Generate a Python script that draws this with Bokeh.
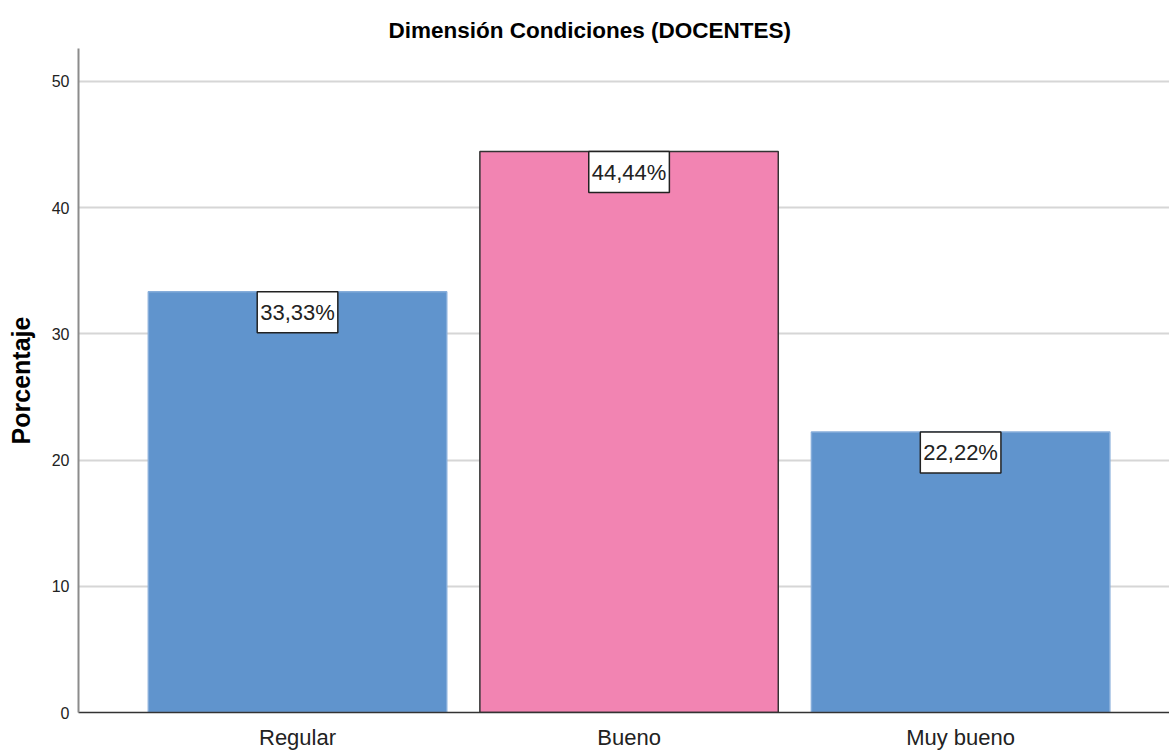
from bokeh.plotting import figure
from bokeh.models import ColumnDataSource, Range1d, FixedTicker, Label
from bokeh.embed import file_html
from bokeh.resources import INLINE

# ---- data ----
categories = ["Regular", "Bueno", "Muy bueno"]
percentages = [33.33, 44.44, 22.22]
y_ticks = [0, 10, 20, 30, 40, 50]
title_text = "Dimensión Condiciones (DOCENTES)"
y_label = "Porcentaje"

# ---- styling ----
FONT = "Liberation Sans"
BLUE = "#6094CD"
PINK = "#F284B2"
highlight = "Bueno"

x = list(range(len(categories)))
labels = [f"{v:.2f}".replace(".", ",") + "%" for v in percentages]
fills = [PINK if c == highlight else BLUE for c in categories]
lines = ["#333333" if c == highlight else "#86ADDA" for c in categories]

src = ColumnDataSource(dict(x=x, top=percentages, fill=fills, line=lines))

p = figure(width=1169, height=752, output_backend="svg", toolbar_location=None,
           x_range=Range1d(-0.6606, 2.63), y_range=Range1d(0, 52.6),
           min_border_left=78, min_border_right=0, min_border_top=48,
           min_border_bottom=40, background_fill_color="white",
           border_fill_color="white")
p.outline_line_color = None

p.title.text = title_text
p.title.align = "left"
p.title.offset = 310
p.title.text_font = FONT
p.title.text_font_size = "22.5px"
p.title.text_font_style = "bold"
p.title.text_color = "black"
p.title.standoff = 12

p.vbar(x="x", top="top", bottom=0, width=0.9, fill_color="fill",
       line_color="line", line_width=1.5, source=src)

for xi, v, lab in zip(x, percentages, labels):
    p.add_layout(Label(x=xi, y=v, text=lab, anchor="top_center",
                       text_font=FONT, text_font_size="22px", text_color="#222222",
                       background_fill_color="white", border_line_color="#222222",
                       border_line_width=1.5,
                       padding=dict(left=3, right=3, top=8, bottom=8),
                       y_offset=0))

# axes
p.xaxis.ticker = FixedTicker(ticks=x)
p.xaxis.major_label_overrides = {i: c for i, c in zip(x, categories)}
p.yaxis.ticker = FixedTicker(ticks=y_ticks)

for ax in (p.xaxis[0], p.yaxis[0]):
    ax.major_tick_line_color = None
    ax.minor_tick_line_color = None
    ax.major_tick_out = 0
    ax.major_tick_in = 0
    ax.major_label_text_font = FONT
    ax.major_label_text_color = "#222222"

p.xaxis.major_label_text_font_size = "22px"
p.xaxis.major_label_standoff = 12
p.xaxis.axis_label_standoff = 0
p.xaxis.axis_line_color = "#333333"
p.xaxis.axis_line_width = 1.5

p.yaxis.major_label_text_font_size = "16px"
p.yaxis.major_label_standoff = 9
p.yaxis.axis_line_color = "#8C8C8C"
p.yaxis.axis_line_width = 2
p.yaxis.axis_label = y_label
p.yaxis.axis_label_text_font = FONT
p.yaxis.axis_label_text_font_size = "25px"
p.yaxis.axis_label_text_font_style = "bold"
p.yaxis.axis_label_text_color = "black"
p.yaxis.axis_label_standoff = 14

p.xgrid.visible = False
p.ygrid.grid_line_color = "#D6D6D6"
p.ygrid.grid_line_width = 2

open("out.html", "w").write(file_html(p, INLINE))
